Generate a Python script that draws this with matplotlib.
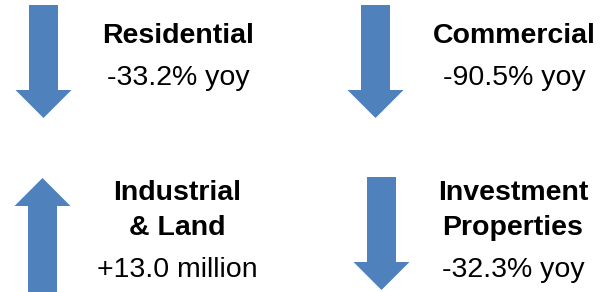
import matplotlib
matplotlib.use("Agg")
import matplotlib.pyplot as plt
from matplotlib.patches import FancyArrow

# ---- data ----
categories = ["Residential", "Commercial", "Industrial\n& Land", "Investment\nProperties"]
values = ["-33.2% yoy", "-90.5% yoy", "+13.0 million", "-32.3% yoy"]
directions = ["down", "down", "up", "down"]

# ---- layout (pixels, y downwards) ----
arrow_x = [43.5, 375.5, 42.5, 381.5]
arrow_top = [5, 5, 178, 177]
arrow_bottom = [118, 118, 292, 290]
text_x = [178, 514, 177, 513]
title_base = [43, 43, 200, 200]
value_base = [85, 85, 277, 277]
line_gap = 35
color = "#4F81BD"

fig = plt.figure(figsize=(6.08, 2.92), dpi=100)
ax = fig.add_axes([0, 0, 1, 1])
ax.set_xlim(0, 608)
ax.set_ylim(292, 0)
ax.axis("off")

for i, cat in enumerate(categories):
    length = arrow_bottom[i] - arrow_top[i]
    if directions[i] == "down":
        y0, dy = arrow_top[i], length
    else:
        y0, dy = arrow_bottom[i], -length
    ax.add_patch(FancyArrow(arrow_x[i], y0, 0, dy, width=29, head_width=56,
                            head_length=28, length_includes_head=True,
                            color=color, linewidth=0))
    lines = cat.split("\n")
    for j, ln in enumerate(lines):
        ax.text(text_x[i], title_base[i] + j * line_gap, ln, ha="center", va="baseline",
                fontsize=20.5, fontweight="bold", family="Liberation Sans", color="black")
    ax.text(text_x[i], value_base[i], values[i], ha="center", va="baseline",
            fontsize=20.5, family="Liberation Sans", color="black")

fig.savefig("out.png", dpi=100)
